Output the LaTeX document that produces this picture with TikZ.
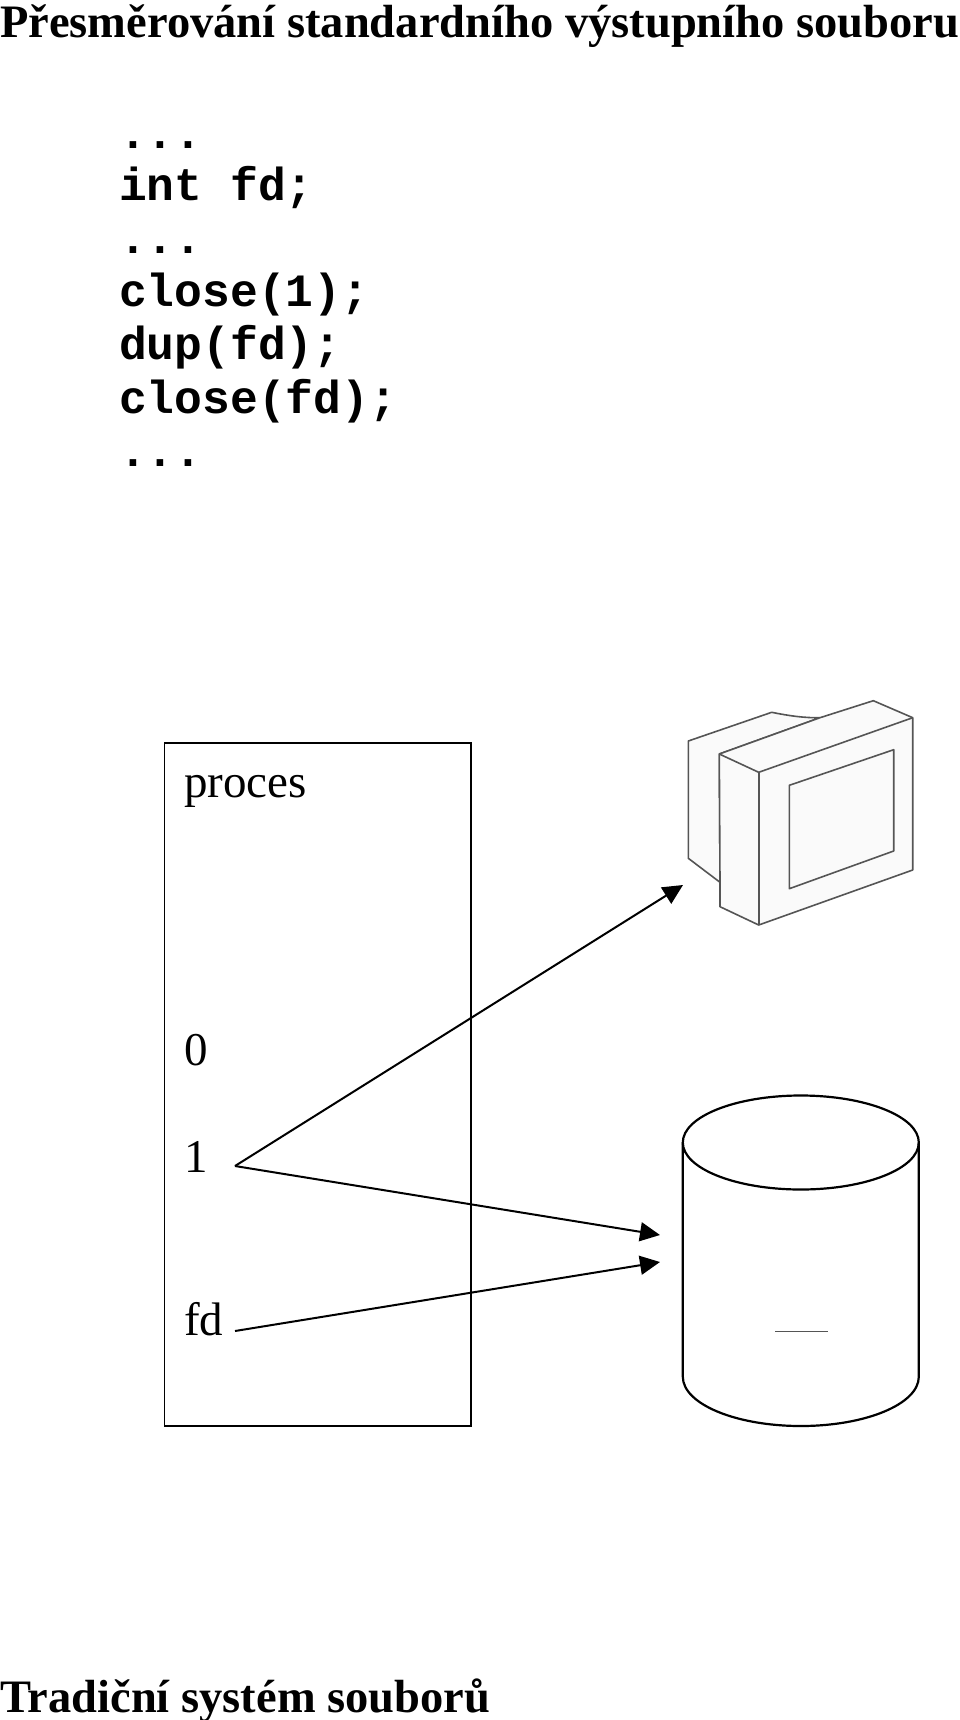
\documentclass[tikz,border=0pt]{standalone}
\usepackage{xcolor}
\usepackage{fontspec}
\setmainfont{Liberation Serif}
\setmonofont{Liberation Mono}
\usetikzlibrary{arrows.meta,positioning,calc}
\definecolor{inkK}{HTML}{000000}
\definecolor{cGray}{HTML}{555555}
\definecolor{lGray}{HTML}{FAFAFA}
\tikzset{
  headline/.style={anchor=base west, inner sep=0pt, font=\fontsize{46.5}{50}\selectfont\bfseries, text=inkK},
  codeline/.style={anchor=base west, inner sep=0pt, font=\fontsize{46.3}{53}\selectfont\ttfamily\bfseries, text=inkK},
  fdlabel/.style={anchor=base west, inner sep=0pt, font=\fontsize{47}{53}\selectfont, text=inkK},
  arrowline/.style={draw=inkK, line width=2pt, -{Triangle[length=20pt,width=19pt]}},
  monitorface/.style={draw=cGray, fill=lGray, line width=1.6pt, line join=round}
}

\begin{document}
\begin{tikzpicture}[x=1pt,y=-1pt]
  \useasboundingbox (0,0) rectangle (960,1720);

  % texts
  \node[headline] (title) at (0,38) {Přesměrování standardního výstupního souboru};
  \node[headline] (footer) at (0,1712) {Tradiční systém souborů};
  \node[codeline] (codeA) at (119,149) {...};
  \node[codeline] (codeB) at (119,201) {int fd;};
  \node[codeline] (codeC) at (119,254) {...};
  \node[codeline] (codeD) at (119,306) {close(1);};
  \node[codeline] (codeE) at (119,359) {dup(fd);};
  \node[codeline] (codeF) at (119,413) {close(fd);};
  \node[codeline] (codeG) at (119,466) {...};

  % proces
  \node[draw=inkK, line width=1.8pt, minimum width=306.5pt, minimum height=683pt,
        anchor=north west, inner sep=0pt] (proces) at (163.5,742) {};
  \node[fdlabel] (lblProces) at (184,797) {proces};
  \node[fdlabel] (lblZero) at (184,1065) {0};
  \node[fdlabel] (lblOne) at (184,1172) {1};
  \node[fdlabel] (lblFd) at (184,1335) {fd};

  % monitor
  \filldraw[monitorface] (688.3,741) -- (771.7,712.3) .. controls (790,716) and (805,718) .. (820,717.7)
    -- (719.3,754) -- (720,882.3) -- (688.3,858.3) -- cycle;
  \filldraw[monitorface] (719.3,754) -- (820,717.7) -- (873.3,700.7) -- (912.7,717.7) -- (912.7,870)
    -- (758.7,925) -- (720,906.7) -- (720,882.3) -- cycle;
  \draw[monitorface, fill=none] (719.3,754) -- (758.7,772.3) -- (912.7,717.7);
  \draw[monitorface, fill=none] (758.7,772.3) -- (758.7,925);
  \draw[monitorface] (789.3,785.3) -- (893.7,749.7) -- (893.7,851) -- (789.3,888.7) -- cycle;

  % disk
  \draw[inkK, line width=2.2pt] (800.8,1142.5) ellipse [x radius=118, y radius=47];
  \draw[inkK, line width=2.2pt] (682.8,1142.5) -- (682.8,1376.7) arc [start angle=180, end angle=0, x radius=118, y radius=49.3] -- (918.8,1142.5);
  \draw[cGray, line width=1pt] (775,1331) -- (828,1331);

  % arrows
  \coordinate (srcOne) at (235,1166);
  \coordinate (srcFd) at (235,1331);
  \coordinate (dstMonitor) at (683,885);
  \coordinate (dstDiskA) at (660,1235);
  \coordinate (dstDiskB) at (660,1262);
  \draw[arrowline] (srcOne) -- (dstMonitor);
  \draw[arrowline] (srcOne) -- (dstDiskA);
  \draw[arrowline] (srcFd) -- (dstDiskB);
\end{tikzpicture}
\end{document}
